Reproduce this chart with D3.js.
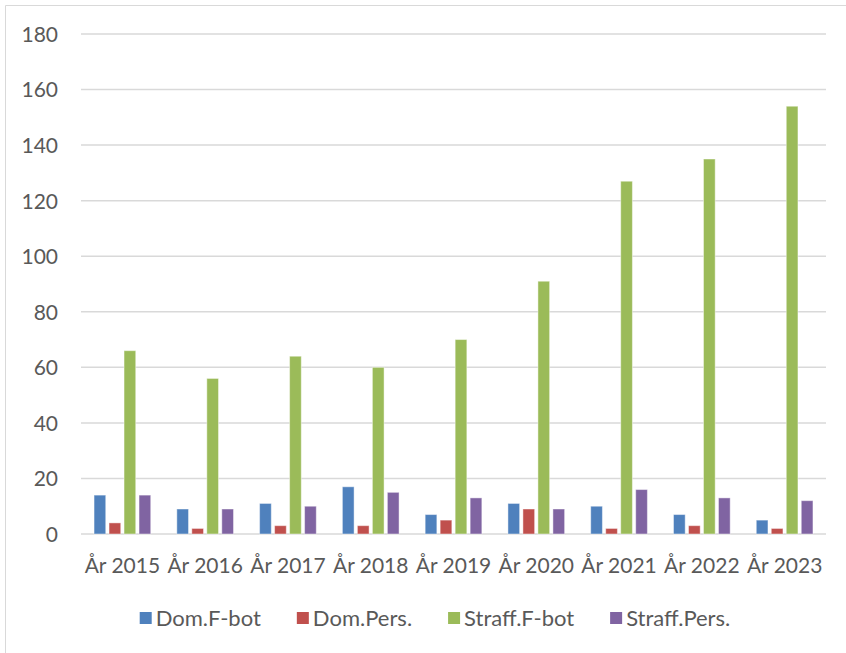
<!DOCTYPE html>
<html>
<head>
<meta charset="utf-8">
<script src="https://cdn.jsdelivr.net/npm/d3@7"></script>
<style>
  html, body { margin: 0; padding: 0; background: #fff; }
  svg text { font-family: Lato, "Open Sans", sans-serif; fill: #595959; }
</style>
</head>
<body>
<svg id="chart" width="846" height="653"></svg>
<script>
// Yearly counts per case type
const categories = ["År 2015", "År 2016", "År 2017", "År 2018", "År 2019", "År 2020", "År 2021", "År 2022", "År 2023"];
const seriesNames = ["Dom.F-bot", "Dom.Pers.", "Straff.F-bot", "Straff.Pers."];
const domFbot     = [14, 9, 11, 17, 7, 11, 10, 7, 5];
const domPers     = [4, 2, 3, 3, 5, 9, 2, 3, 2];
const straffFbot  = [66, 56, 64, 60, 70, 91, 127, 135, 154];
const straffPers  = [14, 9, 10, 15, 13, 9, 16, 13, 12];
const yTicks = [0, 20, 40, 60, 80, 100, 120, 140, 160, 180];
const colors = ["#4f81bd", "#c0504d", "#9bbb59", "#8064a2"];

const seriesValues = [domFbot, domPers, straffFbot, straffPers];
const rows = categories.map((c, i) => ({
  cat: c,
  vals: seriesNames.map((s, j) => ({ key: s, value: seriesValues[j][i] }))
}));

const fontSize = 21;
const svg = d3.select("#chart");

// Chart frame (left and top edges visible)
svg.append("path")
  .attr("d", "M5.5,653 L5.5,5.5 L846,5.5")
  .attr("fill", "none")
  .attr("stroke", "#d9d9d9")
  .attr("stroke-width", 1);

const plot = { left: 81, right: 826, top: 34, bottom: 534 };

const x = d3.scaleBand().domain(categories).range([plot.left, plot.right]).paddingInner(0).paddingOuter(0);
const xs = d3.scaleBand().domain(seriesNames).range([0, x.bandwidth()]).paddingInner(0.22).paddingOuter(0.87);
const y = d3.scaleLinear().domain([0, 180]).range([plot.bottom, plot.top]);

// Horizontal gridlines
svg.append("g")
  .selectAll("line")
  .data(yTicks)
  .join("line")
  .attr("x1", plot.left)
  .attr("x2", plot.right)
  .attr("y1", d => y(d))
  .attr("y2", d => y(d))
  .attr("stroke", "#d9d9d9")
  .attr("stroke-width", 1.5);

// Y axis labels
const yAxis = d3.axisLeft(y).tickValues(yTicks).tickSize(0).tickPadding(0);
const gy = svg.append("g").attr("transform", `translate(${plot.left - 23},0)`).call(yAxis);
gy.select(".domain").remove();
gy.selectAll("text")
  .attr("font-size", fontSize)
  .attr("dy", "0.35em")
  .style("font-family", "Lato, 'Open Sans', sans-serif")
  .attr("fill", "#595959");

// X axis labels
const xAxis = d3.axisBottom(x).tickSize(0).tickPadding(0);
const gx = svg.append("g").attr("transform", `translate(0,${plot.bottom + 24})`).call(xAxis);
gx.select(".domain").remove();
gx.selectAll("text")
  .attr("font-size", fontSize)
  .attr("dy", "0.71em")
  .style("font-family", "Lato, 'Open Sans', sans-serif")
  .attr("fill", "#595959");

// Bars
const groups = svg.append("g")
  .selectAll("g")
  .data(rows)
  .join("g")
  .attr("transform", d => `translate(${x(d.cat)},0)`);

groups.selectAll("rect")
  .data(d => d.vals)
  .join("rect")
  .attr("x", d => xs(d.key))
  .attr("width", xs.bandwidth())
  .attr("y", d => y(d.value))
  .attr("height", d => y(0) - y(d.value))
  .attr("fill", (d, i) => colors[i])
  .attr("stroke", "rgba(255,255,255,0.45)")
  .attr("stroke-width", 1);

// Legend
const legendGap = 36;
const legend = svg.append("g").attr("transform", "translate(0,618)");
const items = legend.selectAll("g")
  .data(seriesNames)
  .join("g");
items.append("rect")
  .attr("y", -6)
  .attr("width", 12)
  .attr("height", 12)
  .attr("fill", (d, i) => colors[i]);
items.append("text")
  .attr("x", 16)
  .attr("dy", "0.35em")
  .attr("font-size", 22)
  .text(d => d);

let pos = 0;
const offsets = [];
items.each(function (d) {
  const w = 16 + d3.select(this).select("text").node().getComputedTextLength();
  offsets.push(pos);
  pos += w + legendGap;
});
const total = pos - legendGap;
const startX = 435 - total / 2;
items.attr("transform", (d, i) => `translate(${startX + offsets[i]},0)`);
</script>
</body>
</html>
